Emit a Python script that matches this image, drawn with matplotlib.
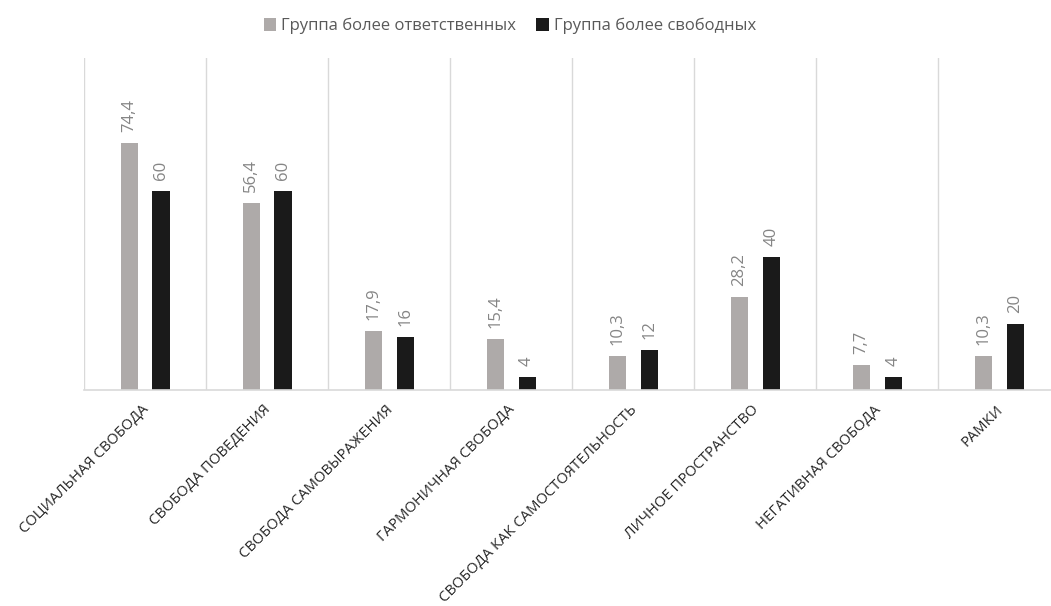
import numpy as np
import matplotlib.pyplot as plt

plt.rcParams['font.family'] = ['Open Sans', 'DejaVu Sans']

categories = ['СОЦИАЛЬНАЯ СВОБОДА', 'СВОБОДА ПОВЕДЕНИЯ', 'СВОБОДА САМОВЫРАЖЕНИЯ',
              'ГАРМОНИЧНАЯ СВОБОДА', 'СВОБОДА КАК САМОСТОЯТЕЛЬНОСТЬ',
              'ЛИЧНОЕ ПРОСТРАНСТВО', 'НЕГАТИВНАЯ СВОБОДА', 'РАМКИ']
responsible = [74.4, 56.4, 17.9, 15.4, 10.3, 28.2, 7.7, 10.3]
free = [60, 60, 16, 4, 12, 40, 4, 20]
series_names = ['Группа более ответственных', 'Группа более свободных']

def fmt(v):
    return f'{v:g}'.replace('.', ',')

fig = plt.figure(figsize=(10.51, 6.06), dpi=100)
ax = fig.add_axes([0.08, 0.356, 0.929, 0.548])

x = np.arange(len(categories))
w = 0.14
off = 0.13
b1 = ax.bar(x - off, responsible, w, color='#aeaaa9', label=series_names[0])
b2 = ax.bar(x + off, free, w, color='#1a1a1a', label=series_names[1])

for bars, vals in ((b1, responsible), (b2, free)):
    for rect, v in zip(bars, vals):
        ax.annotate(fmt(v), (rect.get_x() + rect.get_width() / 2, v),
                    xytext=(0, 8), textcoords='offset points',
                    rotation=90, ha='center', va='bottom',
                    fontsize=12, color='#858585')

ax.set_xlim(-0.5, len(categories) - 0.5)
ax.set_ylim(0, 100)
for b in np.arange(-0.5, len(categories), 1.0):
    ax.axvline(b, color='#d9d9d9', lw=1, zorder=0)

ax.set_yticks([])
ax.set_xticks(x)
ax.set_xticklabels([])
# category labels, rotated 45 and ending under the category centre
for xi, name in zip(x, categories):
    ax.annotate(name, (xi, 0), xycoords=('data', 'axes fraction'),
                xytext=(-4, -12), textcoords='offset pixels',
                rotation=45, ha='right', va='top', rotation_mode='anchor',
                fontsize=10.6, color='#262626', annotation_clip=False)
ax.tick_params(axis='x', length=0)
for s in ['top', 'right', 'left']:
    ax.spines[s].set_visible(False)
ax.spines['bottom'].set_color('#d9d9d9')
ax.spines['bottom'].set_linewidth(1.2)

leg = fig.legend(loc='upper center', bbox_to_anchor=(0.485, 0.995), ncol=2,
                 frameon=False, fontsize=12, handlelength=0.75, handleheight=0.75,
                 handletextpad=0.3, columnspacing=1.2)
for t in leg.get_texts():
    t.set_color('#595959')

fig.savefig('out.png', dpi=100)
